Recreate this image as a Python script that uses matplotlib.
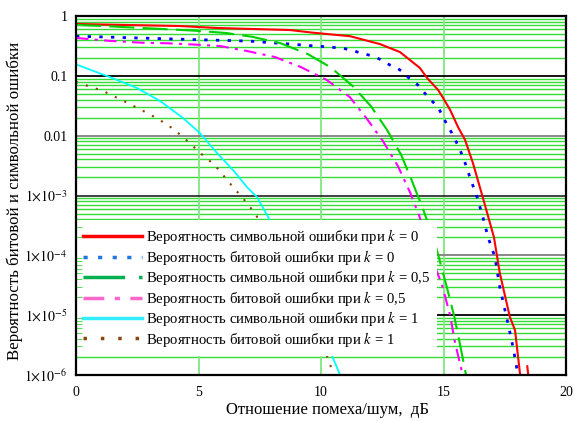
import matplotlib
matplotlib.use("Agg")
import matplotlib.pyplot as plt
import numpy as np
from matplotlib.ticker import FixedLocator, FixedFormatter, NullFormatter

plt.rcParams.update({
    "font.family": ["Liberation Serif", "DejaVu Serif"],
    "mathtext.fontset": "stix",
    "font.size": 10,
})

# ---- data (x in dB) ----
sym_k0_x = [0, 4.24, 5.76, 8.73, 9.67, 11.18, 12.4, 13.22, 13.63, 14.04, 14.33, 14.78,
            14.98, 15.27, 15.59, 15.88, 16.2, 16.6, 17.06, 17.3, 17.71, 17.92, 18.12,
            np.nan, 18.42, 18.46]
sym_k0_y = [0.735, 0.68, 0.63, 0.583, 0.526, 0.46, 0.34, 0.25, 0.184, 0.135, 0.092, 0.058,
            0.043, 0.027, 0.014, 8.5e-3, 3.5e-3, 9.4e-4, 2.0e-4, 5.0e-5, 9.3e-6, 5.6e-6,
            1.07e-6, np.nan, 1.4e-6, 1.0e-6]

bit_k0_x = [0, 4.24, 7.1, 9.14, 10.9, 12.0, 12.4, 12.82, 13.1, 13.35, 13.55, 13.96, 14.37,
            14.78, 15.0, 15.43, 15.8, 16.08, 16.37, 16.61, 16.82, 17.1, 17.3, 17.6, 17.84, 18.04]
bit_k0_y = [0.46, 0.41, 0.38, 0.33, 0.29, 0.22, 0.19, 0.151, 0.135, 0.116, 0.095, 0.07, 0.044,
            0.03, 0.0197, 9.5e-3, 4.4e-3, 2.0e-3, 9.4e-4, 4.3e-4, 2.0e-4, 9.3e-5, 2.9e-5,
            8.3e-6, 2.9e-6, 1.0e-6]

sym_k05_x = [0, 1.1, 2.73, 4.86, 6.12, 7.18, 8.33, 9.47, 10.4, 11.3, 12.04, 12.7,
             13.27, 13.7, 14.14, 14.6, 14.84, 15.16, 15.45, 15.67, 15.92]
sym_k05_y = [0.71, 0.68, 0.63, 0.568, 0.52, 0.45, 0.353, 0.23, 0.138, 0.067, 0.031, 0.0124,
             4.8e-3, 1.8e-3, 6.3e-4, 1.9e-4, 8.3e-5, 2.7e-5, 9.1e-6, 3.3e-6, 1.0e-6]

bit_k05_x = [0, 1.31, 2.65, 3.71, 4.78, 5.88, 6.98, 8.12, 9.18, 10.24, 11.18, 11.92,
             12.53, 13.14, 13.63, 14.0, 14.53, 14.94, 15.27, 15.47, 15.76]
bit_k05_y = [0.43, 0.386, 0.358, 0.35, 0.334, 0.315, 0.26, 0.206, 0.14, 0.085, 0.044, 0.018,
             8.1e-3, 3.1e-3, 1.14e-3, 4.7e-4, 8.7e-5, 3.2e-5, 1.0e-5, 3.5e-6, 1.1e-6]

sym_k1_x = [0, 1.39, 2.49, 3.43, 4.37, 5.06, 5.76, 6.41, 6.98, 7.39, 7.84, 10.45, 10.78]
sym_k1_y = [0.155, 0.095, 0.0625, 0.038, 0.0197, 0.011, 5.1e-3, 2.66e-3, 1.38e-3, 9.4e-4,
            4.4e-4, 2.1e-6, 1.0e-6]

bit_k1_x = [0, 1.1, 2.12, 2.9, 3.43, 3.92, 4.37, 4.86, 5.18, 5.67, 6.0, 6.41, 6.78, 7.1,
            7.31, 10.29, 10.49]
bit_k1_y = [0.079, 0.056, 0.035, 0.024, 0.0182, 0.0134, 9.5e-3, 6.2e-3, 4.7e-3, 3.2e-3,
            2.2e-3, 1.38e-3, 9.4e-4, 6.4e-4, 5.1e-4, 1.9e-6, 1.07e-6]

labels = [
    "Вероятность символьной ошибки при $k$ = 0",
    "Вероятность битовой ошибки при $k$ = 0",
    "Вероятность символьной ошибки при $k$ = 0,5",
    "Вероятность битовой ошибки при $k$ = 0,5",
    "Вероятность символьной ошибки при $k$ = 1",
    "Вероятность битовой ошибки при $k$ = 1",
]

fig = plt.figure(figsize=(5.74, 4.21), dpi=100)
ax = fig.add_axes([76 / 574, 1 - 375 / 421, 490 / 574, 359 / 421])
ax.set_yscale("log")
ax.set_xlim(0, 20)
ax.set_ylim(1e-6, 1)

# grid, Mathcad style
for d in range(-6, 0):
    for m in range(2, 10):
        ax.axhline(m * 10.0 ** d, color="#33dd33", lw=1.0, zorder=1)
for d, c in zip(range(-5, 0), ["black", "#7f7f7f", "#333333", "#7f7f7f", "black"]):
    ax.axhline(10.0 ** d, color=c, lw=1.3, zorder=1.2)
for xv in [5, 10, 15]:
    ax.axvline(xv, color="#88e888", lw=1.4, zorder=1.1)

ax.plot(sym_k0_x, sym_k0_y, color="#ff0000", lw=1.5, label=labels[0], zorder=3)
ax.plot(bit_k0_x, bit_k0_y, color="#0000ff", lw=2.0, dashes=(1.2, 3.0), label=labels[1], zorder=3)
ax.plot(sym_k05_x, sym_k05_y, color="#00d000", lw=1.5, dashes=(12, 4), label=labels[2], zorder=3)
ax.plot(bit_k05_x, bit_k05_y, color="#ff00ff", lw=1.5, dashes=(6, 3, 1.5, 3), label=labels[3], zorder=3)
ax.plot(sym_k1_x, sym_k1_y, color="#00ffff", lw=1.3, label=labels[4], zorder=3)
ax.plot(bit_k1_x, bit_k1_y, color="#8b4000", lw=1.5, dashes=(1.0, 4.0), label=labels[5], zorder=3)

# ticks
yt = [1e-6, 1e-5, 1e-4, 1e-3, 1e-2, 1e-1, 1]
ytl = [r"$1{\times}10^{-6}$", r"$1{\times}10^{-5}$", r"$1{\times}10^{-4}$",
       r"$1{\times}10^{-3}$", "0.01", "0.1", "1"]
ax.yaxis.set_major_locator(FixedLocator(yt))
ax.yaxis.set_major_formatter(FixedFormatter(ytl))
ax.yaxis.set_minor_formatter(NullFormatter())
ax.set_xticks([0, 5, 10, 15, 20])
ax.set_xticklabels(["0", "5", "10", "15", "20"])
ax.tick_params(which="major", length=0, labelsize=10, pad=6)
ax.tick_params(axis="x", which="major", pad=8)
ax.tick_params(axis="y", which="minor", direction="in", length=4, color="#33dd33")
ax.yaxis.set_zorder(6)

for s in ax.spines.values():
    s.set_linewidth(1.6)
    s.set_color("black")
    s.set_zorder(7)

fig.text(327 / 574, 1 - 410 / 421, "Отношение помеха/шум,  дБ", fontsize=12,
         ha="center", va="center")
fig.text(15 / 574, 1 - 201 / 421, "Вероятность битовой и символьной ошибки", fontsize=12.2,
         ha="center", va="center", rotation=90)

leg = ax.legend(loc="lower left", bbox_to_anchor=(0.0, 0.053), borderaxespad=0,
                fontsize=10.6, frameon=True, fancybox=False, framealpha=1,
                facecolor="white", edgecolor="none", handlelength=4.0,
                handletextpad=0.25, labelspacing=0.1, borderpad=0.5)
leg.set_zorder(5)
leg_colors = ["#ff0000", "#1e78e0", "#00b050", "#ff66cc", "#33eeff", "#8b4513"]
for h, c in zip(leg.get_lines(), leg_colors):
    h.set_linewidth(2.5)
    h.set_color(c)

fig.savefig("out.png", dpi=100)
